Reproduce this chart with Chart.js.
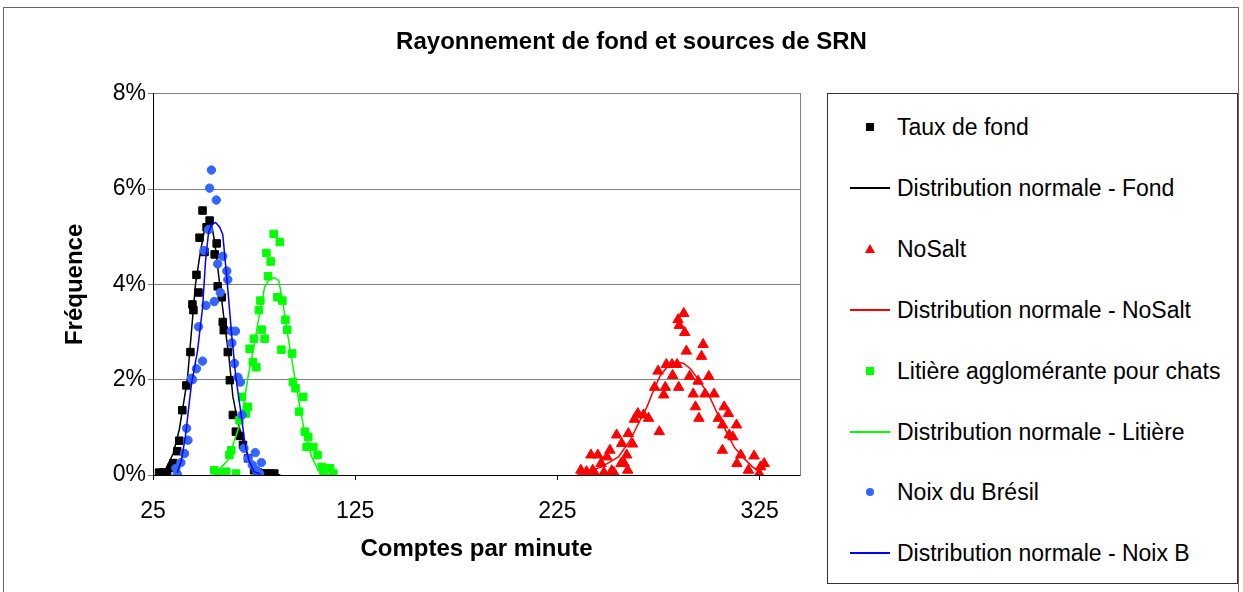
<!DOCTYPE html>
<html>
<head>
<meta charset="utf-8">
<script src="https://cdn.jsdelivr.net/npm/chart.js@4.4.1/dist/chart.umd.min.js"></script>
<style>
  html, body { margin: 0; padding: 0; background: #fff; }
  #wrap { position: relative; width: 1243px; height: 592px; overflow: hidden; font-family: "Liberation Sans", Arial, sans-serif; }
  #frame { position: absolute; left: 3px; top: 7px; width: 1236px; height: 600px; border: 1px solid #666; box-sizing: border-box; pointer-events: none; }
  #legend { position: absolute; left: 827px; top: 93px; width: 411px; height: 491px; border: 1px solid #333; box-sizing: border-box; background: #fff; }
  .item { position: absolute; left: 0; height: 28px; line-height: 28px; display: flex; align-items: center; font-size: 23px; color: #000; white-space: nowrap; }
  .mark { width: 40px; margin-left: 22px; margin-right: 7px; height: 28px; display: flex; justify-content: center; align-items: center; }
</style>
</head>
<body>
<div id="wrap">
  <canvas id="chart" width="1243" height="592"></canvas>
  <div id="frame"></div>
  <div id="legend"></div>
</div>
<script>
// axis ticks
const xTicks = [25, 125, 225, 325];

// Taux de fond (counts per minute, % frequency)
const fondX = [28, 30, 32, 34, 35, 37, 38, 39.5, 41.5, 43.5, 44.5, 45, 46.5, 47.5, 48, 49.5, 50.5, 51.5, 53, 55.5, 56.5, 57, 59, 59.5, 60, 62, 63, 64.5, 66, 68, 69.5, 72, 75, 77, 79, 81, 83, 85];
const fondY = [0.05, 0.05, 0.05, 0.15, 0.25, 0.5, 0.72, 1.36, 1.88, 2.58, 3.58, 3.46, 4.2, 3.83, 4.98, 5.55, 4.68, 5.2, 5.34, 4.63, 4.86, 3.96, 3.73, 3.21, 3.04, 2.58, 1.99, 1.26, 0.91, 0.82, 0.63, 0.35, 0.1, 0.05, 0.03, 0.03, 0.03, 0.03];
const fondLineX = [27, 31, 35, 38, 42, 44, 46, 48.5, 50.5, 52, 54, 55.5, 58, 60.5, 62.5, 64.5, 67, 71, 75, 80, 88];
const fondLineY = [0.02, 0.1, 0.45, 0.95, 2.0, 3.0, 4.0, 4.7, 5.15, 5.35, 5.25, 4.9, 4.0, 3.15, 2.5, 1.65, 1.1, 0.5, 0.17, 0.04, 0.0];

// NoSalt
const nosaltX = [236.6, 239.4, 240.5, 241.6, 242.5, 243.6, 245, 246.6, 248, 249.5, 251, 251.9, 253, 254.3, 256.5, 256.8, 258, 259.3, 259.8, 260.1, 262.2, 263.1, 264.8, 267.6, 270.1, 273.1, 274.8, 275.4, 277.6, 278.4, 278.9, 281.7, 282, 284.2, 284.7, 285, 285.3, 287.5, 288, 288.8, 290.4, 292.2, 293.3, 294.6, 295, 296.3, 297.1, 298, 299.9, 302.5, 304.6, 306.6, 306.7, 307.5, 309.6, 310, 311.8, 313.6, 313.8, 315.7, 319.5, 322.3, 324.8, 325.5, 327.3];
const nosaltY = [0.10, 0.07, 0.0, 0.42, 0.1, 0.03, 0.42, 0.24, 0.05, 0.38, 0.52, 0.09, 0.05, 0.84, 0.24, 0.66, 0.25, 0.42, 0.10, 0.87, 0.65, 1.17, 1.29, 1.26, 1.19, 1.84, 2.18, 0.91, 1.68, 1.84, 2.32, 2.32, 2.09, 2.32, 3.26, 1.84, 3.14, 3.39, 2.99, 2.60, 2.07, 1.70, 1.43, 1.97, 1.19, 2.49, 2.74, 1.70, 2.07, 1.70, 1.19, 0.52, 1.05, 1.43, 1.29, 0.84, 0.80, 1.05, 0.24, 0.42, 0.10, 0.40, 0.03, 0.17, 0.24];
const nosaltLineX = [235, 246.9, 255.2, 261, 265.1, 269.3, 272.6, 275.9, 280, 284.2, 287.5, 290.8, 295, 299.9, 304.1, 308.2, 312.4, 316.5, 321.5, 326.5];
const nosaltLineY = [0.0, 0.17, 0.38, 0.73, 1.08, 1.43, 1.78, 2.09, 2.3, 2.37, 2.34, 2.23, 1.99, 1.68, 1.29, 0.94, 0.59, 0.38, 0.17, 0.03];

// Litière agglomérante pour chats
const litiereX = [55.3, 57.8, 59.5, 61.2, 62.8, 63.7, 66.1, 67.8, 69, 71, 72, 72.8, 74.4, 74.9, 76.1, 77.4, 78.1, 78.8, 80.2, 81.1, 81.9, 83.2, 84.7, 86.5, 87.7, 88.5, 89, 90.5, 91.4, 93.8, 94.2, 95.5, 97.3, 99.3, 100.1, 101, 101.8, 104.3, 106.4, 108.4, 109.3, 112.6, 114.2];
const litiereY = [0.10, 0.03, 0.03, 0.07, 0.42, 0.52, 0.03, 1.15, 1.64, 1.29, 1.43, 2.65, 2.37, 2.86, 2.26, 3.46, 3.66, 3.05, 2.86, 4.66, 4.17, 4.48, 5.06, 3.73, 4.89, 2.63, 3.66, 3.26, 3.05, 2.55, 1.95, 1.82, 1.33, 1.64, 0.91, 0.59, 0.80, 0.59, 0.42, 0.17, 0.07, 0.14, 0.03];
const litiereLineX = [55, 62, 68.6, 72, 75.2, 77.7, 80.2, 82.7, 85.2, 87.2, 89.3, 91.8, 94.8, 97.6, 100.1, 103.5, 106.7, 112];
const litiereLineY = [0.0, 0.31, 1.15, 2.06, 2.76, 3.39, 3.94, 4.12, 4.14, 4.08, 3.6, 2.9, 2.13, 1.43, 0.87, 0.38, 0.1, 0.0];

// Noix du Brésil
const noixX = [36.3, 37, 38.8, 40.6, 41.6, 42.3, 44, 44.6, 46.5, 47.5, 49.5, 50.2, 51.2, 52.5, 53, 53.9, 55.3, 56.3, 57, 58.3, 59.5, 61.5, 62, 63.7, 64, 65.3, 65.8, 67, 68.3, 69, 70, 72, 74.1, 75.6, 76.1, 77.7, 78.6];
const noixY = [0.14, 0.02, 0.26, 0.45, 0.98, 0.73, 2.03, 2.0, 2.23, 3.11, 2.39, 4.71, 3.56, 5.15, 6.02, 6.4, 3.64, 5.77, 4.43, 3.83, 4.59, 4.28, 4.1, 3.02, 2.77, 2.34, 3.02, 2.05, 1.95, 1.26, 0.56, 0.35, 0.21, 0.47, 0.1, 0.03, 0.26];
const noixLineX = [37, 39, 41, 44, 47, 49.5, 51, 52.5, 54, 56, 58, 59.5, 60.5, 62, 64, 66, 68.5, 70.5, 72.5, 75, 78];
const noixLineY = [0.05, 0.3, 0.8, 1.9, 2.6, 3.5, 4.5, 5.1, 5.25, 5.3, 5.2, 5.05, 4.6, 3.9, 2.9, 2.05, 1.3, 0.65, 0.3, 0.07, 0.02];

const toPoints = (xs, ys) => xs.map((x, i) => ({ x: x, y: ys[i] }));

function markers(label, xs, ys, style, color, radius) {
    return {
        label: label,
        data: toPoints(xs, ys),
        showLine: false,
        pointStyle: style,
        pointRadius: radius,
        pointHoverRadius: radius,
        backgroundColor: color,
        borderColor: color,
        pointBorderWidth: 1,
        legendMark: style,
    };
}

function curve(label, xs, ys, color) {
    return {
        label: label,
        data: toPoints(xs, ys),
        showLine: true,
        pointRadius: 0,
        borderColor: color,
        backgroundColor: color,
        borderWidth: 1.5,
        tension: 0,
        fill: false,
        legendMark: 'line',
    };
}

const datasets = [
    markers('Taux de fond', fondX, fondY, 'rect', '#000000', 5.3),
    curve('Distribution normale - Fond', fondLineX, fondLineY, '#000000'),
    markers('NoSalt', nosaltX, nosaltY, 'triangle', '#ff0000', 6),
    curve('Distribution normale - NoSalt', nosaltLineX, nosaltLineY, '#ff0000'),
    markers('Litière agglomérante pour chats', litiereX, litiereY, 'rect', '#00ff00', 5.3),
    curve('Distribution normale - Litière', litiereLineX, litiereLineY, '#00ff00'),
    markers('Noix du Brésil', noixX, noixY, 'circle', '#3366ff', 4.2),
    curve('Distribution normale - Noix B', noixLineX, noixLineY, '#0000ff'),
];
// later series are drawn on top, like the original
datasets.forEach((d, i) => { d.order = datasets.length - 1 - i; });

const chart = new Chart(document.getElementById('chart'), {
    type: 'scatter',
    data: { datasets: datasets },
    options: {
        responsive: false,
        devicePixelRatio: 1,
        animation: false,
        layout: { padding: { left: 20, top: 0, right: 0, bottom: 0 } },
        font: { family: '"Liberation Sans", Arial, sans-serif' },
        plugins: {
            legend: { display: false },
            tooltip: { enabled: false },
            title: {
                display: true,
                text: 'Rayonnement de fond et sources de SRN',
                color: '#000',
                font: { size: 24, weight: 'bold' },
                padding: { top: 28, bottom: 37 },
            },
        },
        scales: {
            x: {
                type: 'linear',
                min: 25,
                max: 345,
                afterBuildTicks: s => { s.ticks = xTicks.map(v => ({ value: v })); },
                afterFit: s => { s.height = 117; },
                grid: { drawOnChartArea: false, drawTicks: true, tickLength: 5, color: '#000' },
                border: { color: '#000', width: 1 },
                ticks: { color: '#000', font: { size: 23 }, padding: 18, maxRotation: 0, autoSkip: false },
                title: {
                    display: true,
                    text: 'Comptes par minute',
                    color: '#000',
                    font: { size: 24, weight: 'bold' },
                    padding: { top: 0, bottom: 28 },
                },
            },
            y: {
                min: 0,
                max: 8,
                afterFit: s => { s.width = 133; },
                grid: { color: '#808080', tickLength: 5 },
                border: { color: '#000', width: 1 },
                ticks: { stepSize: 2, color: '#000', font: { size: 23 }, padding: 2, callback: v => v + '%' },
                title: {
                    display: true,
                    text: 'Fréquence',
                    color: '#000',
                    font: { size: 24, weight: 'bold' },
                    padding: { top: 41, bottom: 0 },
                },
            },
            yRight: {
                position: 'right',
                min: 0,
                max: 8,
                afterFit: s => { s.width = 443; },
                grid: { drawOnChartArea: false, drawTicks: false },
                border: { display: true, color: '#808080', width: 1 },
                ticks: { display: false },
            },
        },
    },
});

// legend box on the right
const legendEl = document.getElementById('legend');
datasets.forEach((d, i) => {
    const item = document.createElement('div');
    item.className = 'item';
    item.style.top = (33 + i * 60.9 - 14) + 'px';
    const mark = document.createElement('span');
    mark.className = 'mark';
    const inner = document.createElement('span');
    if (d.legendMark === 'line') {
        inner.style.cssText = 'display:block;width:40px;height:2px;background:' + d.borderColor;
    } else if (d.legendMark === 'rect') {
        inner.style.cssText = 'display:block;width:8px;height:8px;background:' + d.backgroundColor;
    } else if (d.legendMark === 'circle') {
        inner.style.cssText = 'display:block;width:8px;height:8px;border-radius:50%;background:' + d.backgroundColor;
    } else {
        inner.style.cssText = 'display:block;width:0;height:0;border-left:5px solid transparent;border-right:5px solid transparent;border-bottom:9px solid ' + d.backgroundColor;
    }
    mark.appendChild(inner);
    const text = document.createElement('span');
    text.textContent = d.label;
    item.appendChild(mark);
    item.appendChild(text);
    legendEl.appendChild(item);
});
</script>
</body>
</html>
